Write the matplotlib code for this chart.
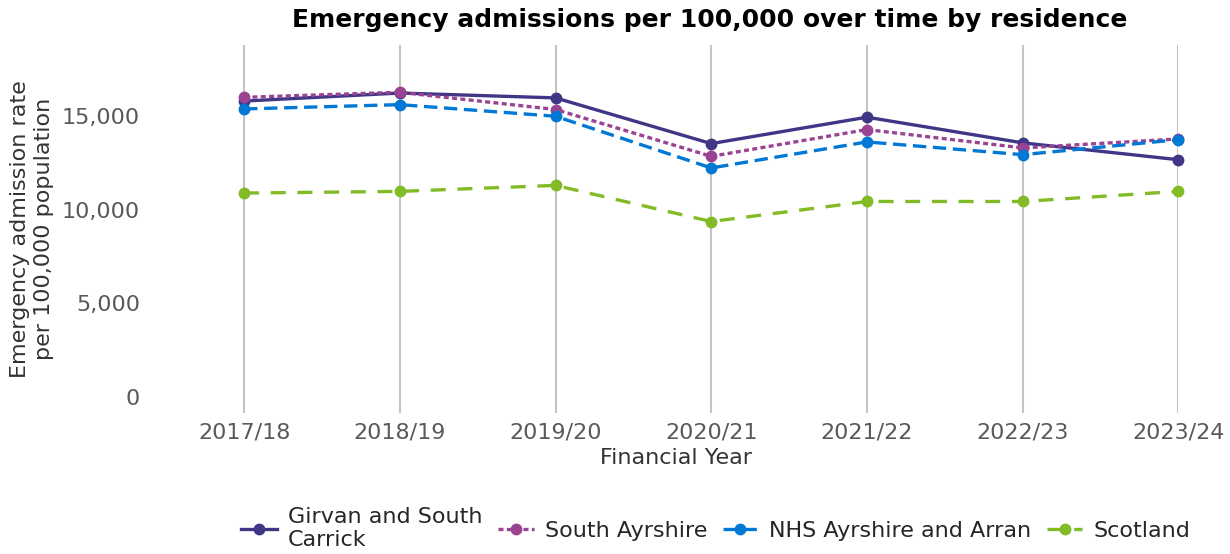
import matplotlib
matplotlib.use("Agg")
import matplotlib.pyplot as plt
from matplotlib.ticker import FuncFormatter

years = ["2017/18", "2018/19", "2019/20", "2020/21", "2021/22", "2022/23", "2023/24"]
girvan = [15800, 16230, 15970, 13530, 14940, 13570, 12670]
south_ayrshire = [16000, 16270, 15350, 12850, 14280, 13300, 13780]
nhs_aa = [15380, 15610, 14990, 12230, 13620, 12940, 13740]
scotland = [10890, 10980, 11300, 9370, 10440, 10440, 10980]

series_names = ["Girvan and South\nCarrick", "South Ayrshire", "NHS Ayrshire and Arran", "Scotland"]
series_values = [girvan, south_ayrshire, nhs_aa, scotland]
colors = ["#3F3685", "#9B4393", "#0078D4", "#83BB26"]
styles = ["-", (0, (1.5, 1.0)), (0, (4.0, 2.0)), (0, (4.5, 3.5))]

fig = plt.figure(figsize=(12.3, 5.54), dpi=100)
ax = fig.add_axes([0.1415, 0.2545, 0.958 - 0.1415, 0.919 - 0.2545])

x = list(range(len(years)))
for name, vals, c, ls in zip(series_names, series_values, colors, styles):
    ax.plot(x, vals, color=c, linestyle=ls, linewidth=2.4, marker="o",
            markersize=7.5, label=name, clip_on=False, zorder=3)

ax.set_xlim(-0.45, 6.0)
ax.set_ylim(-850, 18800)
ax.set_xticks(x)
ax.set_xticklabels(years)
ax.set_yticks([0, 5000, 10000, 15000])
ax.yaxis.set_major_formatter(FuncFormatter(lambda v, p: f"{int(v):,}"))
ax.grid(axis="x", color="#c4c4c4", linewidth=1.5, zorder=0)
ax.grid(axis="y", visible=False)
for s in ax.spines.values():
    s.set_visible(False)
ax.tick_params(axis="both", length=0, labelsize=16, labelcolor="#595959")
ax.tick_params(axis="y", pad=24.5)
ax.tick_params(axis="x", pad=7)

ax.set_xlabel("Financial Year", fontsize=16, color="#333333", labelpad=4)
ax.set_ylabel("Emergency admission rate\nper 100,000 population", fontsize=16,
              color="#333333", labelpad=6)
fig.text(0.577, 0.963, "Emergency admissions per 100,000 over time by residence",
         ha="center", va="center", fontsize=18, fontweight="bold", color="#000000")

leg = fig.legend(loc="center", bbox_to_anchor=(0.582, 0.046), ncol=4, frameon=False,
                 fontsize=16, handlelength=1.6, columnspacing=0.7, handletextpad=0.5,
                 labelcolor="#262626", labelspacing=0.1)

fig.savefig("out.png", dpi=100)
